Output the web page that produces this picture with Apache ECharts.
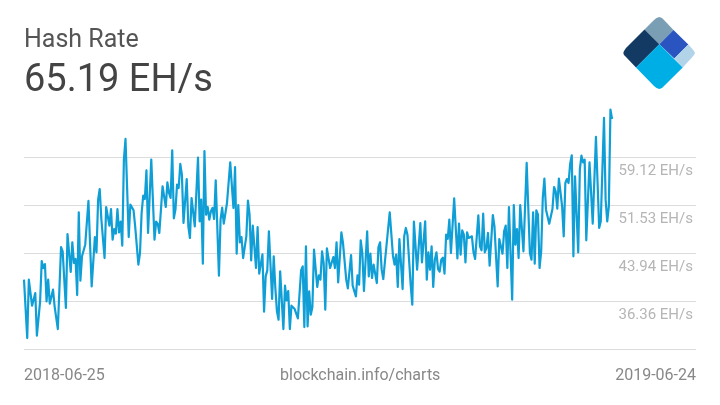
<!DOCTYPE html>
<html>
<head>
<meta charset="utf-8">
<style>
html, body { margin: 0; padding: 0; background: #fff; }
#main { width: 720px; height: 405px; }
</style>
</head>
<body>
<div id="main"></div>
<script src="https://cdn.jsdelivr.net/npm/echarts@6/dist/echarts.min.js"></script>
<script>
// days since 2018-06-25 and hash rate in EH/s
var dayOffsets = [0,2,3,5,7,8,10,11,12,13,14,15,16,18,19,20,21,23,24,26,27,29,30,31,32,33,34,35,36,38,40,42,44,45,46,47,48,50,51,53,54,55,56,57,58,59,60,61,62,63,65,66,67,68,69,70,71,72,73,74,75,76,77,79,81,82,83,84,86,87,88,89,90,91,92,93,94,95,96,97,98,99,101,102,103,104,106,108,109,110,111,112,113,114,115,116,117,118,119,120,121,122,123,124,126,128,130,131,132,133,134,135,136,138,139,140,141,142,144,145,146,148,149,150,151,152,154,155,156,157,158,159,161,162,163,164,165,166,167,168,169,170,172,173,174,175,176,177,178,179,180,181,182,183,184,185,186,187,188,190,192,193,194,195,196,197,198,200,201,202,203,204,205,206,207,208,209,210,211,213,214,215,216,217,218,219,220,221,222,223,224,225,227,229,230,231,232,233,235,236,237,238,239,240,241,242,244,246,247,249,250,251,252,253,254,255,256,257,258,259,260,261,262,263,264,265,267,269,270,271,272,273,274,275,276,277,278,279,280,282,283,284,285,286,287,288,289,291,292,294,295,296,297,298,299,300,301,303,304,305,306,307,308,309,310,312,314,315,316,317,318,319,320,321,322,323,324,326,328,329,330,331,332,334,335,336,337,338,339,340,341,342,344,345,346,347,348,349,351,353,355,357,358,360,361,362,363,364,365];
var hashRates = [39.73,30.50,39.73,35.62,37.62,30.87,36.30,42.68,41.57,42.20,36.30,39.73,35.93,38.15,35.51,35.40,31.92,44.89,44.21,35.25,46.95,40.94,45.63,42.36,43.00,37.30,50.37,39.57,43.42,45.26,52.17,38.67,46.47,44.05,52.38,54.06,49.32,43.15,51.22,48.27,50.90,46.05,47.74,47.00,50.90,47.21,48.90,45.10,58.70,61.97,46.47,51.59,51.85,50.69,48.16,48.16,42.10,43.94,50.27,53.01,52.48,57.02,47.11,58.70,46.05,48.90,48.58,47.11,54.49,54.75,51.22,55.12,53.43,52.64,60.18,49.43,50.80,54.75,54.22,58.02,56.33,48.69,55.64,48.16,46.32,52.64,48.16,59.02,48.95,52.38,42.26,60.07,50.00,51.22,49.21,50.53,51.06,49.32,55.43,55.12,40.36,49.21,51.11,48.58,51.85,58.28,51.06,57.54,43.84,51.53,45.63,46.47,43.15,46.58,52.22,50.00,42.78,48.27,41.57,48.05,40.68,43.73,34.67,40.25,41.20,47.37,36.67,43.42,38.41,34.72,33.40,41.04,31.92,38.78,36.46,37.93,31.92,35.62,35.93,35.09,34.98,33.61,41.20,41.83,32.24,45.00,32.35,37.88,34.19,35.40,44.47,44.68,38.57,40.41,39.73,44.21,42.36,34.98,44.68,41.57,43.31,41.57,45.63,39.30,39.30,47.21,45.52,39.73,38.36,38.25,43.63,38.78,38.88,37.09,40.41,38.94,45.95,43.94,37.93,47.37,40.25,43.84,39.99,42.10,42.26,39.20,44.89,45.63,41.31,39.83,42.52,42.63,50.37,43.52,42.10,43.68,38.57,46.16,38.25,46.58,47.90,46.84,46.95,38.94,35.77,48.90,41.31,48.69,42.47,48.95,39.73,44.05,41.31,45.00,38.57,42.89,44.05,41.41,41.01,42.89,43.21,40.68,46.84,46.16,49.21,43.94,52.59,43.10,48.58,43.68,47.53,46.84,42.47,47.21,46.32,46.58,46.58,44.05,43.00,49.90,45.00,44.37,50.16,44.05,44.73,47.11,41.94,49.95,48.16,38.67,46.16,46.16,43.84,47.37,48.27,41.57,51.22,36.56,51.53,45.26,47.74,43.15,51.53,51.53,44.21,58.18,43.94,42.89,50.37,42.26,50.69,50.00,41.57,44.21,52.64,55.70,50.80,48.58,50.90,54.38,53.70,50.95,55.70,51.32,46.58,55.01,55.64,55.01,58.07,59.39,43.42,56.07,44.05,57.12,59.33,58.28,58.70,45.95,58.28,48.58,62.29,47.90,48.95,65.29,52.38,48.95,51.32,66.61,65.13];
var gridValues = [28.77,36.36,43.94,51.53,59.12];
var labelValues = [36.36,43.94,51.53,59.12];

var seriesData = dayOffsets.map(function (day, i) {
    return [day, hashRates[i]];
});

var chart = echarts.init(document.getElementById('main'));

function logoPiece(points, color) {
    return { type: 'polygon', shape: { points: points }, style: { fill: color } };
}

function titleText(text, pos, size, color) {
    return Object.assign({
        text: text,
        padding: 0,
        textStyle: { fontFamily: 'Roboto', fontSize: size, fontWeight: 'normal', color: color }
    }, pos);
}

var option = {
    animation: false,
    backgroundColor: '#fff',
    textStyle: { fontFamily: 'Roboto' },
    title: [
        titleText('Hash Rate', { left: 24, top: 28 }, 25, '#555'),
        titleText('65.19 EH/s', { left: 24, top: 62 }, 38, '#444'),
        titleText('2018-06-25', { left: 24, top: 368 }, 16, '#888'),
        titleText('blockchain.info/charts', { left: 280, top: 368 }, 16, '#888'),
        titleText('2019-06-24', { right: 24, top: 368 }, 16, '#888')
    ],
    grid: { left: 24, right: 24, top: 100, height: 249 },
    xAxis: {
        type: 'value',
        min: 0,
        max: 417.1,
        show: false,
        splitLine: { show: false }
    },
    yAxis: {
        type: 'value',
        position: 'right',
        min: 28.77,
        max: 68.13,
        axisLine: { show: false },
        axisTick: { show: false, customValues: gridValues },
        axisLabel: {
            inside: true,
            customValues: labelValues,
            margin: 3,
            verticalAlign: 'top',
            padding: [7, 0, 0, 0],
            fontFamily: 'Roboto',
            fontSize: 15,
            color: '#b5b5b5',
            formatter: function (value) {
                return value.toFixed(2) + ' EH/s';
            }
        },
        splitLine: { show: true, lineStyle: { color: '#dcdcdc', width: 1 } }
    },
    series: [{
        type: 'line',
        data: seriesData,
        showSymbol: false,
        smooth: false,
        lineStyle: { color: '#0f9fd6', width: 2.2, join: 'round' }
    }],
    graphic: [
        logoPiece([[659.3,44.3],[673.5,30],[664,20],[662,18],[659.3,17],[656.5,18],[654,20],[644.5,29.5]], '#7a9fb5'),
        logoPiece([[644.5,29.5],[659.3,44.3],[636,67.5],[626,57],[624,55],[623.3,53],[624,51],[626,48]], '#123a63'),
        logoPiece([[673.5,30],[688.3,44.5],[674.3,58.5],[659.3,44.3]], '#2a55c0'),
        logoPiece([[688.3,44.5],[692,48.5],[694,51],[695,53],[694,55],[692,57.5],[682.7,67.5],[674.3,58.5]], '#b1d4e8'),
        logoPiece([[659.3,44.3],[682.7,67.5],[664,86],[662,88],[659.3,89],[656.5,88],[654,86],[636,67.5]], '#00aee6')
    ]
};

chart.setOption(option);
</script>
</body>
</html>
